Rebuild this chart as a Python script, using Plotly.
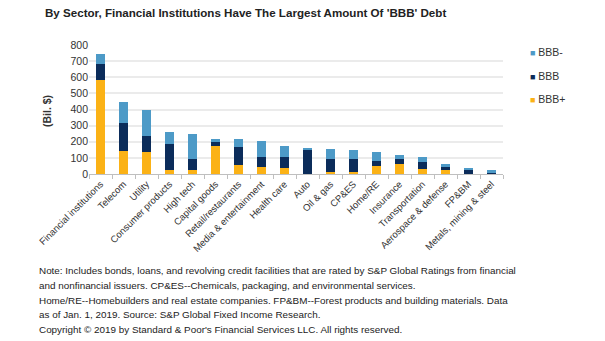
import plotly.graph_objects as go

categories = ["Financial institutions", "Telecom", "Utility", "Consumer products", "High tech",
              "Capital goods", "Retail/restaurants", "Media & entertainment", "Health care", "Auto",
              "Oil & gas", "CP&ES", "Home/RE", "Insurance", "Transportation",
              "Aerospace & defense", "FP&BM", "Metals, mining & steel"]
# cumulative tops
total = [746, 449, 397, 262, 245, 218, 218, 206, 172, 162, 158, 150, 137, 120, 106, 60, 37, 25]
bbb_top = [684, 318, 233, 185, 91, 197, 168, 104, 104, 150, 96, 91, 81, 96, 75, 42, 25, 5]
bbb_plus = [582, 145, 139, 27, 23, 175, 54, 44, 39, 3, 15, 15, 48, 60, 31, 23, 3, 1]

bbb = [b - p for b, p in zip(bbb_top, bbb_plus)]
bbb_minus = [t - b for t, b in zip(total, bbb_top)]

series_names = ["BBB+", "BBB", "BBB-"]
series_values = [bbb_plus, bbb, bbb_minus]
series_colors = ["#fbb216", "#0b2c5a", "#4d9ac7"]

y_ticks = [0, 100, 200, 300, 400, 500, 600, 700, 800]

title_text = "By Sector, Financial Institutions Have The Largest Amount Of 'BBB' Debt"
note_lines = [
    "Note: Includes bonds, loans, and revolving credit facilities that are rated by S&P Global Ratings from financial",
    "and nonfinancial issuers. CP&ES--Chemicals, packaging, and environmental services.",
    "Home/RE--Homebuilders and real estate companies. FP&BM--Forest products and building materials. Data",
    "as of Jan. 1, 2019. Source: S&P Global Fixed Income Research.",
    "Copyright © 2019 by Standard & Poor's Financial Services LLC. All rights reserved.",
]

fig = go.Figure()
for name, vals, col in zip(series_names, series_values, series_colors):
    fig.add_trace(go.Bar(x=categories, y=vals, name=name, marker_color=col,
                         marker_line_width=0, showlegend=False))

W, H = 605, 341
L, R, T, B = 89, 102, 45, 167
pw, ph = W - L - R, H - T - B

def px_x(x):
    return (x - L) / pw

def px_y(y):
    return (H - B - y) / ph

font_family = "Liberation Sans, Arial, sans-serif"

fig.update_layout(
    width=W, height=H,
    margin=dict(l=L, r=R, t=T, b=B, autoexpand=False),
    barmode="stack", bargap=0.57,
    paper_bgcolor="white", plot_bgcolor="white",
    font=dict(family=font_family, color="#333333", size=10),
    showlegend=False,
    xaxis=dict(tickangle=-45, tickfont=dict(size=9.5, color="#333333"),
               showline=True, linecolor="#bfbfbf", linewidth=1,
               ticks="outside", tickson="boundaries", ticklen=4, tickcolor="#bfbfbf",
               showgrid=False),
    yaxis=dict(range=[0, 800], tickvals=y_ticks, tickfont=dict(size=10.5, color="#333333"),
               showgrid=True, gridcolor="#ebebeb", gridwidth=1.5, zeroline=False,
               ticks="", showline=False),
)

annotations = [
    dict(text="<b>" + title_text + "</b>", x=px_x(43), y=px_y(12), xref="paper", yref="paper",
         xanchor="left", yanchor="middle", showarrow=False,
         font=dict(size=11.6, color="#222222", family=font_family)),
    dict(text="<b>(Bil. $)</b>", x=px_x(47), y=px_y(111), xref="paper", yref="paper",
         xanchor="center", yanchor="middle", textangle=-90, showarrow=False,
         font=dict(size=10.5, color="#333333", family=font_family)),
]
# legend drawn as text (top to bottom: BBB-, BBB, BBB+)
legend_ys = [52, 75.5, 99]
for name, col, yy in zip(reversed(series_names), reversed(series_colors), legend_ys):
    annotations.append(dict(
        text=f"<span style='color:{col};font-size:9px'>■</span> {name}",
        x=px_x(528), y=px_y(yy), xref="paper", yref="paper",
        xanchor="left", yanchor="middle", showarrow=False,
        font=dict(size=10.5, color="#333333", family=font_family)))

line_ys = [270, 285.5, 300, 314.5, 329.5]
for txt, yy in zip(note_lines, line_ys):
    annotations.append(dict(text=txt, x=px_x(37), y=px_y(yy), xref="paper", yref="paper",
                            xanchor="left", yanchor="middle", showarrow=False,
                            font=dict(size=9.9, color="#222222", family=font_family)))
fig.update_layout(annotations=annotations)

fig.write_html("out.html")
